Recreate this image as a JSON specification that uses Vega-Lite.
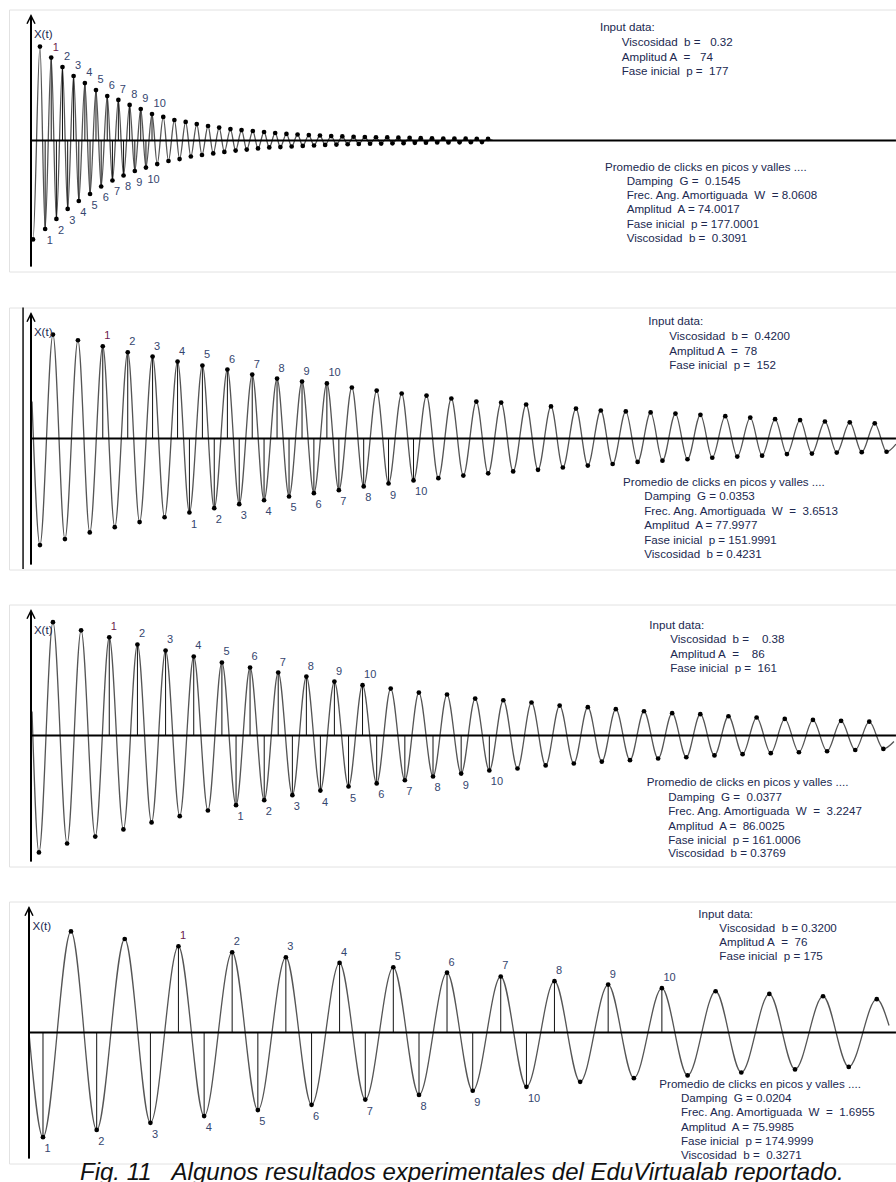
{
"$schema": "https://vega.github.io/schema/vega-lite/v6.json",
"background": "white",
"padding": {"left": 8, "top": 8.5, "right": 0, "bottom": 0},
"spacing": 33,
"title": {"text": "Fig. 11\u00a0 \u00a0Algunos resultados experimentales del EduVirtualab reportado.", "orient": "bottom", "anchor": "middle", "fontSize": 24, "fontStyle": "italic", "fontWeight": "normal", "font": "Liberation Sans", "color": "#111111", "baseline": "alphabetic", "offset": 15.5, "dx": 8},
"config": {"view": {"stroke": "#e2e2e2"}, "text": {"font": "Liberation Sans"}},
"datasets": {
"frame": [
{"p":1,"kind":"ax","t":0,"t2":59.9,"v":0,"v2":0},
{"p":1,"kind":"ay","t":0,"t2":0,"v":89.5,"v2":-90.5},
{"p":2,"kind":"ax","t":0,"t2":59.9,"v":0,"v2":0},
{"p":2,"kind":"ay","t":0,"t2":0,"v":89.5,"v2":-90.5},
{"p":2,"kind":"edge","t":-0.55,"t2":-0.55,"v":94,"v2":-93.6},
{"p":3,"kind":"ax","t":0,"t2":59.9,"v":0,"v2":0},
{"p":3,"kind":"ay","t":0,"t2":0,"v":89.5,"v2":-90.5},
{"p":4,"kind":"ax","t":-0.14,"t2":59.9,"v":0,"v2":0},
{"p":4,"kind":"ay","t":-0.14,"t2":-0.14,"v":89.5,"v2":-90.5}
],
"d1": [
{"t":0,"v":-69,"k":"e"},{"t":0.14,"v":-71,"k":"v"},{"t":0.62,"v":67.4,"k":"p"},
{"t":0.98,"v":-63.5,"k":"v","lab":"1"},{"t":1.40,"v":59.5,"k":"p","lab":"1"},
{"t":1.76,"v":-56.3,"k":"v","lab":"2"},{"t":2.18,"v":52.7,"k":"p","lab":"2"},
{"t":2.54,"v":-49.1,"k":"v","lab":"3"},{"t":2.95,"v":46.3,"k":"p","lab":"3"},
{"t":3.31,"v":-43.4,"k":"v","lab":"4"},{"t":3.73,"v":41.2,"k":"p","lab":"4"},
{"t":4.09,"v":-38.4,"k":"v","lab":"5"},{"t":4.50,"v":36.2,"k":"p","lab":"5"},
{"t":4.86,"v":-33.0,"k":"v","lab":"6"},{"t":5.28,"v":31.9,"k":"p","lab":"6"},
{"t":5.64,"v":-28.7,"k":"v","lab":"7"},{"t":6.05,"v":29.1,"k":"p","lab":"7"},
{"t":6.41,"v":-25.1,"k":"v","lab":"8"},{"t":6.83,"v":25.5,"k":"p","lab":"8"},
{"t":7.19,"v":-21.9,"k":"v","lab":"9"},{"t":7.60,"v":22.6,"k":"p","lab":"9"},
{"t":7.96,"v":-19.4,"k":"v","lab":"10"},{"t":8.38,"v":19.0,"k":"p","lab":"10"},
{"t":8.74,"v":-16.9,"k":"v"},{"t":9.16,"v":16.9,"k":"p"},
{"t":9.52,"v":-14.7,"k":"v"},{"t":9.93,"v":14.7,"k":"p"},
{"t":10.29,"v":-13.3,"k":"v"},{"t":10.71,"v":13.3,"k":"p"},
{"t":11.07,"v":-11.5,"k":"v"},{"t":11.48,"v":11.8,"k":"p"},
{"t":11.84,"v":-10.4,"k":"v"},{"t":12.26,"v":10.4,"k":"p"},
{"t":12.62,"v":-9.3,"k":"v"},{"t":13.03,"v":9.3,"k":"p"},
{"t":13.39,"v":-8.2,"k":"v"},{"t":13.81,"v":8.2,"k":"p"},
{"t":14.17,"v":-7.2,"k":"v"},{"t":14.58,"v":7.5,"k":"p"},
{"t":14.94,"v":-6.5,"k":"v"},{"t":15.36,"v":6.8,"k":"p"},
{"t":15.72,"v":-5.7,"k":"v"},{"t":16.14,"v":6.1,"k":"p"},
{"t":16.50,"v":-5.0,"k":"v"},{"t":16.91,"v":5.4,"k":"p"},
{"t":17.27,"v":-4.7,"k":"v"},{"t":17.69,"v":4.7,"k":"p"},
{"t":18.05,"v":-4.3,"k":"v"},{"t":18.46,"v":4.3,"k":"p"},
{"t":18.82,"v":-3.9,"k":"v"},{"t":19.24,"v":3.9,"k":"p"},
{"t":19.60,"v":-3.6,"k":"v"},{"t":20.01,"v":3.6,"k":"p"},
{"t":20.37,"v":-3.2,"k":"v"},{"t":20.79,"v":3.2,"k":"p"},
{"t":21.15,"v":-2.9,"k":"v"},{"t":21.56,"v":2.9,"k":"p"},
{"t":21.93,"v":-2.7,"k":"v"},{"t":22.34,"v":2.7,"k":"p"},
{"t":22.70,"v":-2.5,"k":"v"},{"t":23.12,"v":2.5,"k":"p"},
{"t":23.48,"v":-2.3,"k":"v"},{"t":23.89,"v":2.3,"k":"p"},
{"t":24.25,"v":-2.2,"k":"v"},{"t":24.67,"v":2.2,"k":"p"},
{"t":25.03,"v":-2.0,"k":"v"},{"t":25.44,"v":2.0,"k":"p"},
{"t":25.80,"v":-1.9,"k":"v"},{"t":26.22,"v":1.9,"k":"p"},
{"t":26.58,"v":-1.7,"k":"v"},{"t":26.99,"v":1.7,"k":"p"},
{"t":27.35,"v":-1.6,"k":"v"},{"t":27.77,"v":1.6,"k":"p"},
{"t":28.13,"v":-1.4,"k":"v"},{"t":28.55,"v":1.4,"k":"p"},
{"t":28.91,"v":-1.4,"k":"v"},{"t":29.32,"v":1.4,"k":"p"},
{"t":29.68,"v":-1.3,"k":"v"},{"t":30.10,"v":1.3,"k":"p"},
{"t":30.46,"v":-1.2,"k":"v"},{"t":30.87,"v":1.2,"k":"p"},
{"t":31.23,"v":-1.1,"k":"v"},{"t":31.65,"v":1.1,"k":"p"},
{"t":32.0,"v":0,"k":"e"}
],
"d2": [
{"t":0.07,"v":26.5,"k":"e"},{"t":0.62,"v":-76.5,"k":"v"},{"t":1.52,"v":74.6,"k":"p"},
{"t":2.35,"v":-72.2,"k":"v"},{"t":3.25,"v":70.5,"k":"p"},
{"t":4.07,"v":-67.4,"k":"v"},{"t":4.97,"v":66.2,"k":"p","lab":"1"},
{"t":5.80,"v":-63.6,"k":"v"},{"t":6.70,"v":61.9,"k":"p","lab":"2"},
{"t":7.52,"v":-60.0,"k":"v"},{"t":8.42,"v":58.8,"k":"p","lab":"3"},
{"t":9.25,"v":-56.5,"k":"v"},{"t":10.15,"v":55.2,"k":"p","lab":"4"},
{"t":10.97,"v":-53.1,"k":"v","lab":"1"},{"t":11.87,"v":52.4,"k":"p","lab":"5"},
{"t":12.69,"v":-50.0,"k":"v","lab":"2"},{"t":13.60,"v":49.5,"k":"p","lab":"6"},
{"t":14.42,"v":-47.1,"k":"v","lab":"3"},{"t":15.32,"v":45.9,"k":"p","lab":"7"},
{"t":16.14,"v":-44.3,"k":"v","lab":"4"},{"t":17.04,"v":43.0,"k":"p","lab":"8"},
{"t":17.87,"v":-41.6,"k":"v","lab":"5"},{"t":18.77,"v":40.9,"k":"p","lab":"9"},
{"t":19.59,"v":-39.2,"k":"v","lab":"6"},{"t":20.49,"v":39.5,"k":"p","lab":"10"},
{"t":21.32,"v":-37.1,"k":"v","lab":"7"},{"t":22.22,"v":36.6,"k":"p"},
{"t":23.04,"v":-34.4,"k":"v","lab":"8"},{"t":23.94,"v":34.4,"k":"p"},
{"t":24.76,"v":-32.3,"k":"v","lab":"9"},{"t":25.67,"v":32.3,"k":"p"},
{"t":26.49,"v":-30.1,"k":"v","lab":"10"},{"t":27.39,"v":30.8,"k":"p"},
{"t":28.21,"v":-28.5,"k":"v"},{"t":29.11,"v":28.7,"k":"p"},
{"t":29.94,"v":-26.6,"k":"v"},{"t":30.84,"v":26.5,"k":"p"},
{"t":31.66,"v":-25.0,"k":"v"},{"t":32.56,"v":25.8,"k":"p"},
{"t":33.39,"v":-23.6,"k":"v"},{"t":34.29,"v":24.4,"k":"p"},
{"t":35.11,"v":-22.5,"k":"v"},{"t":36.01,"v":23.0,"k":"p"},
{"t":36.83,"v":-20.8,"k":"v"},{"t":37.74,"v":21.5,"k":"p"},
{"t":38.56,"v":-19.4,"k":"v"},{"t":39.46,"v":20.1,"k":"p"},
{"t":40.28,"v":-18.3,"k":"v"},{"t":41.19,"v":19.4,"k":"p"},
{"t":42.01,"v":-16.8,"k":"v"},{"t":42.91,"v":18.7,"k":"p"},
{"t":43.73,"v":-15.9,"k":"v"},{"t":44.63,"v":17.9,"k":"p"},
{"t":45.46,"v":-14.9,"k":"v"},{"t":46.36,"v":17.0,"k":"p"},
{"t":47.18,"v":-13.8,"k":"v"},{"t":48.08,"v":16.0,"k":"p"},
{"t":48.91,"v":-13.0,"k":"v"},{"t":49.81,"v":15.0,"k":"p"},
{"t":50.63,"v":-12.3,"k":"v"},{"t":51.53,"v":13.9,"k":"p"},
{"t":52.35,"v":-11.2,"k":"v"},{"t":53.26,"v":13.2,"k":"p"},
{"t":54.08,"v":-10.8,"k":"v"},{"t":54.98,"v":12.2,"k":"p"},
{"t":55.80,"v":-10.1,"k":"v"},{"t":56.70,"v":11.6,"k":"p"},
{"t":57.53,"v":-9.8,"k":"v"},{"t":58.43,"v":10.9,"k":"p"},
{"t":59.25,"v":-9.5,"k":"v"},{"t":59.9,"v":-4,"k":"e"}
],
"d3": [
{"t":0.07,"v":17.2,"k":"e"},{"t":0.55,"v":-83.9,"k":"v"},{"t":1.52,"v":81.3,"k":"p"},
{"t":2.50,"v":-77.5,"k":"v"},{"t":3.47,"v":75.5,"k":"p"},
{"t":4.45,"v":-72.5,"k":"v"},{"t":5.42,"v":70.5,"k":"p","lab":"1"},
{"t":6.40,"v":-67.4,"k":"v"},{"t":7.37,"v":65.3,"k":"p","lab":"2"},
{"t":8.35,"v":-62.4,"k":"v"},{"t":9.32,"v":61.0,"k":"p","lab":"3"},
{"t":10.30,"v":-57.9,"k":"v"},{"t":11.27,"v":56.7,"k":"p","lab":"4"},
{"t":12.25,"v":-53.8,"k":"v"},{"t":13.22,"v":52.4,"k":"p","lab":"5"},
{"t":14.20,"v":-50.0,"k":"v","lab":"1"},{"t":15.17,"v":48.8,"k":"p","lab":"6"},
{"t":16.15,"v":-46.4,"k":"v","lab":"2"},{"t":17.12,"v":45.2,"k":"p","lab":"7"},
{"t":18.10,"v":-42.8,"k":"v","lab":"3"},{"t":19.07,"v":42.3,"k":"p","lab":"8"},
{"t":20.04,"v":-39.5,"k":"v","lab":"4"},{"t":21.01,"v":38.7,"k":"p","lab":"9"},
{"t":21.99,"v":-36.6,"k":"v","lab":"5"},{"t":22.96,"v":36.1,"k":"p","lab":"10"},
{"t":23.94,"v":-34.4,"k":"v","lab":"6"},{"t":24.91,"v":33.7,"k":"p"},
{"t":25.89,"v":-32.1,"k":"v","lab":"7"},{"t":26.86,"v":30.8,"k":"p"},
{"t":27.84,"v":-29.4,"k":"v","lab":"8"},{"t":28.81,"v":29.4,"k":"p"},
{"t":29.79,"v":-27.3,"k":"v","lab":"9"},{"t":30.76,"v":26.5,"k":"p"},
{"t":31.74,"v":-25.1,"k":"v","lab":"10"},{"t":32.71,"v":25.3,"k":"p"},
{"t":33.69,"v":-23.7,"k":"v"},{"t":34.66,"v":23.7,"k":"p"},
{"t":35.64,"v":-21.5,"k":"v"},{"t":36.61,"v":21.5,"k":"p"},
{"t":37.59,"v":-20.1,"k":"v"},{"t":38.56,"v":20.3,"k":"p"},
{"t":39.53,"v":-18.7,"k":"v"},{"t":40.50,"v":18.9,"k":"p"},
{"t":41.48,"v":-17.7,"k":"v"},{"t":42.45,"v":17.4,"k":"p"},
{"t":43.43,"v":-16.5,"k":"v"},{"t":44.40,"v":16.0,"k":"p"},
{"t":45.38,"v":-15.6,"k":"v"},{"t":46.35,"v":15.3,"k":"p"},
{"t":47.33,"v":-14.3,"k":"v"},{"t":48.30,"v":13.8,"k":"p"},
{"t":49.28,"v":-13.4,"k":"v"},{"t":50.25,"v":12.9,"k":"p"},
{"t":51.23,"v":-12.7,"k":"v"},{"t":52.20,"v":11.9,"k":"p"},
{"t":53.18,"v":-12.0,"k":"v"},{"t":54.15,"v":11.2,"k":"p"},
{"t":55.13,"v":-11.3,"k":"v"},{"t":56.10,"v":10.5,"k":"p"},
{"t":57.08,"v":-10.4,"k":"v"},{"t":58.05,"v":9.9,"k":"p"},
{"t":59.03,"v":-9.6,"k":"v"},{"t":59.76,"v":-4.3,"k":"e"}
],
"d4": [
{"t":-0.14,"v":0,"k":"e"},{"t":0.83,"v":-75.1,"k":"v","lab":"1"},{"t":2.77,"v":72.5,"k":"p"},
{"t":4.55,"v":-69.9,"k":"v","lab":"2"},{"t":6.49,"v":67.1,"k":"p"},
{"t":8.27,"v":-64.8,"k":"v","lab":"3"},{"t":10.21,"v":61.9,"k":"p","lab":"1"},
{"t":11.99,"v":-60.0,"k":"v","lab":"4"},{"t":13.93,"v":57.6,"k":"p","lab":"2"},
{"t":15.71,"v":-55.7,"k":"v","lab":"5"},{"t":17.65,"v":54.0,"k":"p","lab":"3"},
{"t":19.43,"v":-51.9,"k":"v","lab":"6"},{"t":21.37,"v":49.9,"k":"p","lab":"4"},
{"t":23.15,"v":-48.1,"k":"v","lab":"7"},{"t":25.09,"v":46.8,"k":"p","lab":"5"},
{"t":26.87,"v":-44.8,"k":"v","lab":"8"},{"t":28.81,"v":42.9,"k":"p","lab":"6"},
{"t":30.59,"v":-41.8,"k":"v","lab":"9"},{"t":32.53,"v":40.2,"k":"p","lab":"7"},
{"t":34.31,"v":-39.0,"k":"v","lab":"10"},{"t":36.25,"v":36.8,"k":"p","lab":"8"},
{"t":38.03,"v":-35.4,"k":"v"},{"t":39.97,"v":34.4,"k":"p","lab":"9"},
{"t":41.75,"v":-32.8,"k":"v"},{"t":43.69,"v":31.8,"k":"p","lab":"10"},
{"t":45.47,"v":-30.8,"k":"v"},{"t":47.41,"v":29.6,"k":"p"},
{"t":49.19,"v":-28.7,"k":"v"},{"t":51.13,"v":27.7,"k":"p"},
{"t":52.91,"v":-26.5,"k":"v"},{"t":54.85,"v":26.0,"k":"p"},
{"t":56.63,"v":-24.7,"k":"v"},{"t":58.57,"v":23.9,"k":"p"},
{"t":59.42,"v":5.0,"k":"e"}
],
"notes": [
{"p":1,"t":0.2,"v":76,"s":"X(t)"},
{"p":1,"t":39.40,"v":80.9,"s":"Input data:"},
{"p":1,"t":40.91,"v":69.8,"s":"Viscosidad\u00a0 b =\u00a0 \u00a00.32"},
{"p":1,"t":40.91,"v":59.4,"s":"Amplitud A\u00a0 =\u00a0 \u00a074"},
{"p":1,"t":40.91,"v":49.4,"s":"Fase inicial\u00a0 p =\u00a0 177"},
{"p":1,"t":39.75,"v":-19.5,"s":"Promedio de clicks en picos y valles ...."},
{"p":1,"t":41.25,"v":-29.7,"s":"Damping\u00a0 G =\u00a0 0.1545"},
{"p":1,"t":41.25,"v":-39.9,"s":"Frec. Ang. Amortiguada\u00a0 W\u00a0 = 8.0608"},
{"p":1,"t":41.25,"v":-50.1,"s":"Amplitud\u00a0 A = 74.0017"},
{"p":1,"t":41.25,"v":-60.3,"s":"Fase inicial\u00a0 p = 177.0001"},
{"p":1,"t":41.25,"v":-70.5,"s":"Viscosidad\u00a0 b =\u00a0 0.3091"},
{"p":2,"t":0.2,"v":76,"s":"X(t)"},
{"p":2,"t":42.75,"v":83.4,"s":"Input data:"},
{"p":2,"t":44.20,"v":72.6,"s":"Viscosidad\u00a0 b =\u00a0 0.4200"},
{"p":2,"t":44.20,"v":62.4,"s":"Amplitud A\u00a0 =\u00a0 78"},
{"p":2,"t":44.20,"v":52.2,"s":"Fase inicial\u00a0 p =\u00a0 152"},
{"p":2,"t":41.00,"v":-32.1,"s":"Promedio de clicks en picos y valles ...."},
{"p":2,"t":42.47,"v":-42.3,"s":"Damping\u00a0 G = 0.0353"},
{"p":2,"t":42.47,"v":-52.6,"s":"Frec. Ang. Amortiguada\u00a0 W\u00a0 =\u00a0 3.6513"},
{"p":2,"t":42.47,"v":-62.9,"s":"Amplitud\u00a0 A = 77.9977"},
{"p":2,"t":42.47,"v":-73.2,"s":"Fase inicial\u00a0 p = 151.9991"},
{"p":2,"t":42.47,"v":-83.3,"s":"Viscosidad\u00a0 b = 0.4231"},
{"p":3,"t":0.2,"v":75,"s":"X(t)"},
{"p":3,"t":42.82,"v":78.6,"s":"Input data:"},
{"p":3,"t":44.27,"v":68.3,"s":"Viscosidad\u00a0 b =\u00a0 \u00a0 0.38"},
{"p":3,"t":44.27,"v":57.9,"s":"Amplitud A\u00a0 =\u00a0 \u00a0 86"},
{"p":3,"t":44.27,"v":47.6,"s":"Fase inicial\u00a0 p =\u00a0 161"},
{"p":3,"t":42.64,"v":-34.3,"s":"Promedio de clicks en picos y valles ...."},
{"p":3,"t":44.13,"v":-44.6,"s":"Damping\u00a0 G =\u00a0 0.0377"},
{"p":3,"t":44.13,"v":-54.9,"s":"Frec. Ang. Amortiguada\u00a0 W\u00a0 =\u00a0 3.2247"},
{"p":3,"t":44.13,"v":-65.3,"s":"Amplitud\u00a0 A =\u00a0 86.0025"},
{"p":3,"t":44.13,"v":-75.6,"s":"Fase inicial\u00a0 p = 161.0006"},
{"p":3,"t":44.13,"v":-85.2,"s":"Viscosidad\u00a0 b = 0.3769"},
{"p":4,"t":0.1,"v":76,"s":"X(t)"},
{"p":4,"t":46.21,"v":84.5,"s":"Input data:"},
{"p":4,"t":47.67,"v":74.4,"s":"Viscosidad\u00a0 b = 0.3200"},
{"p":4,"t":47.67,"v":64.2,"s":"Amplitud A\u00a0 =\u00a0 76"},
{"p":4,"t":47.67,"v":54.0,"s":"Fase inicial\u00a0 p = 175"},
{"p":4,"t":43.51,"v":-37.4,"s":"Promedio de clicks en picos y valles ...."},
{"p":4,"t":45.01,"v":-47.6,"s":"Damping\u00a0 G = 0.0204"},
{"p":4,"t":45.01,"v":-57.8,"s":"Frec. Ang. Amortiguada\u00a0 W\u00a0 =\u00a0 1.6955"},
{"p":4,"t":45.01,"v":-68.3,"s":"Amplitud\u00a0 A = 75.9985"},
{"p":4,"t":45.01,"v":-78.6,"s":"Fase inicial\u00a0 p = 174.9999"},
{"p":4,"t":45.01,"v":-88.8,"s":"Viscosidad\u00a0 b =\u00a0 0.3271"}
]
},
"vconcat": [
{
"width": 888, "height": 262,
"data": {"name": "d1"},
"encoding": {
"x": {"field": "t", "type": "quantitative", "scale": {"domain": [-1.5235, 59.972], "nice": false, "zero": false}, "axis": null},
"y": {"field": "v", "type": "quantitative", "scale": {"domain": [-94, 94], "nice": false, "zero": false}, "axis": null}
},
"layer": [
{"mark": {"type": "line", "interpolate": "monotone", "color": "#555555", "strokeWidth": 1.3}},
{"transform": [{"filter": "datum.lab"}], "mark": {"type": "rule", "color": "#111111", "strokeWidth": 1}, "encoding": {"y2": {"datum": 0}}},
{"data": {"name": "frame"}, "transform": [{"filter": "datum.p == 1 && datum.kind != 'edge'"}], "mark": {"type": "rule", "color": "black", "strokeWidth": 2}, "encoding": {"x2": {"field": "t2"}, "y2": {"field": "v2"}}},
{"data": {"name": "frame"}, "transform": [{"filter": "datum.p == 1 && datum.kind == 'ay'"}], "mark": {"type": "point", "shape": "M-1,2L0,0L1,2", "size": 64, "filled": false, "color": "black", "strokeWidth": 1.5, "opacity": 1}},
{"transform": [{"filter": "datum.k != 'e'"}], "mark": {"type": "point", "shape": "circle", "filled": true, "size": 22, "color": "black", "opacity": 1}},
{"transform": [{"filter": "datum.k == 'p' && datum.lab"}], "mark": {"type": "text", "align": "left", "baseline": "middle", "dx": 1.5, "dy": -10, "fontSize": 11}, "encoding": {"text": {"field": "lab", "type": "nominal"}, "color": {"condition": {"test": "datum.lab == '1'", "value": "#6b1a4d"}, "value": "#34456e"}}},
{"transform": [{"filter": "datum.k == 'v' && datum.lab"}], "mark": {"type": "text", "align": "left", "baseline": "middle", "dx": 1.5, "dy": 12, "fontSize": 11, "color": "#34456e"}, "encoding": {"text": {"field": "lab", "type": "nominal"}}},
{"data": {"name": "notes"}, "transform": [{"filter": "datum.p == 1"}], "mark": {"type": "text", "align": "left", "baseline": "middle", "fontSize": 11.6, "color": "#202850"}, "encoding": {"text": {"field": "s", "type": "nominal"}}}
]
},
{
"width": 888, "height": 262,
"data": {"name": "d2"},
"encoding": {
"x": {"field": "t", "type": "quantitative", "scale": {"domain": [-1.5235, 59.972], "nice": false, "zero": false}, "axis": null},
"y": {"field": "v", "type": "quantitative", "scale": {"domain": [-94, 94], "nice": false, "zero": false}, "axis": null}
},
"layer": [
{"data": {"name": "frame"}, "transform": [{"filter": "datum.p == 2 && datum.kind == 'edge'"}], "mark": {"type": "rule", "color": "#111111", "strokeWidth": 1.5}, "encoding": {"x2": {"field": "t2"}, "y2": {"field": "v2"}}},
{"mark": {"type": "line", "interpolate": "monotone", "color": "#555555", "strokeWidth": 1.3}},
{"transform": [{"filter": "datum.lab"}], "mark": {"type": "rule", "color": "#111111", "strokeWidth": 1}, "encoding": {"y2": {"datum": 0}}},
{"data": {"name": "frame"}, "transform": [{"filter": "datum.p == 2 && datum.kind != 'edge'"}], "mark": {"type": "rule", "color": "black", "strokeWidth": 2}, "encoding": {"x2": {"field": "t2"}, "y2": {"field": "v2"}}},
{"data": {"name": "frame"}, "transform": [{"filter": "datum.p == 2 && datum.kind == 'ay'"}], "mark": {"type": "point", "shape": "M-1,2L0,0L1,2", "size": 64, "filled": false, "color": "black", "strokeWidth": 1.5, "opacity": 1}},
{"transform": [{"filter": "datum.k != 'e'"}], "mark": {"type": "point", "shape": "circle", "filled": true, "size": 22, "color": "black", "opacity": 1}},
{"transform": [{"filter": "datum.k == 'p' && datum.lab"}], "mark": {"type": "text", "align": "left", "baseline": "middle", "dx": 1.5, "dy": -10, "fontSize": 11}, "encoding": {"text": {"field": "lab", "type": "nominal"}, "color": {"condition": {"test": "datum.lab == '1'", "value": "#6b1a4d"}, "value": "#34456e"}}},
{"transform": [{"filter": "datum.k == 'v' && datum.lab"}], "mark": {"type": "text", "align": "left", "baseline": "middle", "dx": 1.5, "dy": 12, "fontSize": 11, "color": "#34456e"}, "encoding": {"text": {"field": "lab", "type": "nominal"}}},
{"data": {"name": "notes"}, "transform": [{"filter": "datum.p == 2"}], "mark": {"type": "text", "align": "left", "baseline": "middle", "fontSize": 11.6, "color": "#202850"}, "encoding": {"text": {"field": "s", "type": "nominal"}}}
]
},
{
"width": 888, "height": 262,
"data": {"name": "d3"},
"encoding": {
"x": {"field": "t", "type": "quantitative", "scale": {"domain": [-1.5235, 59.972], "nice": false, "zero": false}, "axis": null},
"y": {"field": "v", "type": "quantitative", "scale": {"domain": [-94, 94], "nice": false, "zero": false}, "axis": null}
},
"layer": [
{"mark": {"type": "line", "interpolate": "monotone", "color": "#555555", "strokeWidth": 1.3}},
{"transform": [{"filter": "datum.lab"}], "mark": {"type": "rule", "color": "#111111", "strokeWidth": 1}, "encoding": {"y2": {"datum": 0}}},
{"data": {"name": "frame"}, "transform": [{"filter": "datum.p == 3 && datum.kind != 'edge'"}], "mark": {"type": "rule", "color": "black", "strokeWidth": 2}, "encoding": {"x2": {"field": "t2"}, "y2": {"field": "v2"}}},
{"data": {"name": "frame"}, "transform": [{"filter": "datum.p == 3 && datum.kind == 'ay'"}], "mark": {"type": "point", "shape": "M-1,2L0,0L1,2", "size": 64, "filled": false, "color": "black", "strokeWidth": 1.5, "opacity": 1}},
{"transform": [{"filter": "datum.k != 'e'"}], "mark": {"type": "point", "shape": "circle", "filled": true, "size": 22, "color": "black", "opacity": 1}},
{"transform": [{"filter": "datum.k == 'p' && datum.lab"}], "mark": {"type": "text", "align": "left", "baseline": "middle", "dx": 1.5, "dy": -10, "fontSize": 11}, "encoding": {"text": {"field": "lab", "type": "nominal"}, "color": {"condition": {"test": "datum.lab == '1'", "value": "#6b1a4d"}, "value": "#34456e"}}},
{"transform": [{"filter": "datum.k == 'v' && datum.lab"}], "mark": {"type": "text", "align": "left", "baseline": "middle", "dx": 1.5, "dy": 12, "fontSize": 11, "color": "#34456e"}, "encoding": {"text": {"field": "lab", "type": "nominal"}}},
{"data": {"name": "notes"}, "transform": [{"filter": "datum.p == 3"}], "mark": {"type": "text", "align": "left", "baseline": "middle", "fontSize": 11.6, "color": "#202850"}, "encoding": {"text": {"field": "s", "type": "nominal"}}}
]
},
{
"width": 888, "height": 262,
"data": {"name": "d4"},
"encoding": {
"x": {"field": "t", "type": "quantitative", "scale": {"domain": [-1.5235, 59.972], "nice": false, "zero": false}, "axis": null},
"y": {"field": "v", "type": "quantitative", "scale": {"domain": [-94, 94], "nice": false, "zero": false}, "axis": null}
},
"layer": [
{"mark": {"type": "line", "interpolate": "monotone", "color": "#555555", "strokeWidth": 1.3}},
{"transform": [{"filter": "datum.lab"}], "mark": {"type": "rule", "color": "#111111", "strokeWidth": 1}, "encoding": {"y2": {"datum": 0}}},
{"data": {"name": "frame"}, "transform": [{"filter": "datum.p == 4 && datum.kind != 'edge'"}], "mark": {"type": "rule", "color": "black", "strokeWidth": 2}, "encoding": {"x2": {"field": "t2"}, "y2": {"field": "v2"}}},
{"data": {"name": "frame"}, "transform": [{"filter": "datum.p == 4 && datum.kind == 'ay'"}], "mark": {"type": "point", "shape": "M-1,2L0,0L1,2", "size": 64, "filled": false, "color": "black", "strokeWidth": 1.5, "opacity": 1}},
{"transform": [{"filter": "datum.k != 'e'"}], "mark": {"type": "point", "shape": "circle", "filled": true, "size": 22, "color": "black", "opacity": 1}},
{"transform": [{"filter": "datum.k == 'p' && datum.lab"}], "mark": {"type": "text", "align": "left", "baseline": "middle", "dx": 1.5, "dy": -10, "fontSize": 11}, "encoding": {"text": {"field": "lab", "type": "nominal"}, "color": {"condition": {"test": "datum.lab == '1'", "value": "#6b1a4d"}, "value": "#34456e"}}},
{"transform": [{"filter": "datum.k == 'v' && datum.lab"}], "mark": {"type": "text", "align": "left", "baseline": "middle", "dx": 1.5, "dy": 12, "fontSize": 11, "color": "#34456e"}, "encoding": {"text": {"field": "lab", "type": "nominal"}}},
{"data": {"name": "notes"}, "transform": [{"filter": "datum.p == 4"}], "mark": {"type": "text", "align": "left", "baseline": "middle", "fontSize": 11.6, "color": "#202850"}, "encoding": {"text": {"field": "s", "type": "nominal"}}}
]
}
]
}
